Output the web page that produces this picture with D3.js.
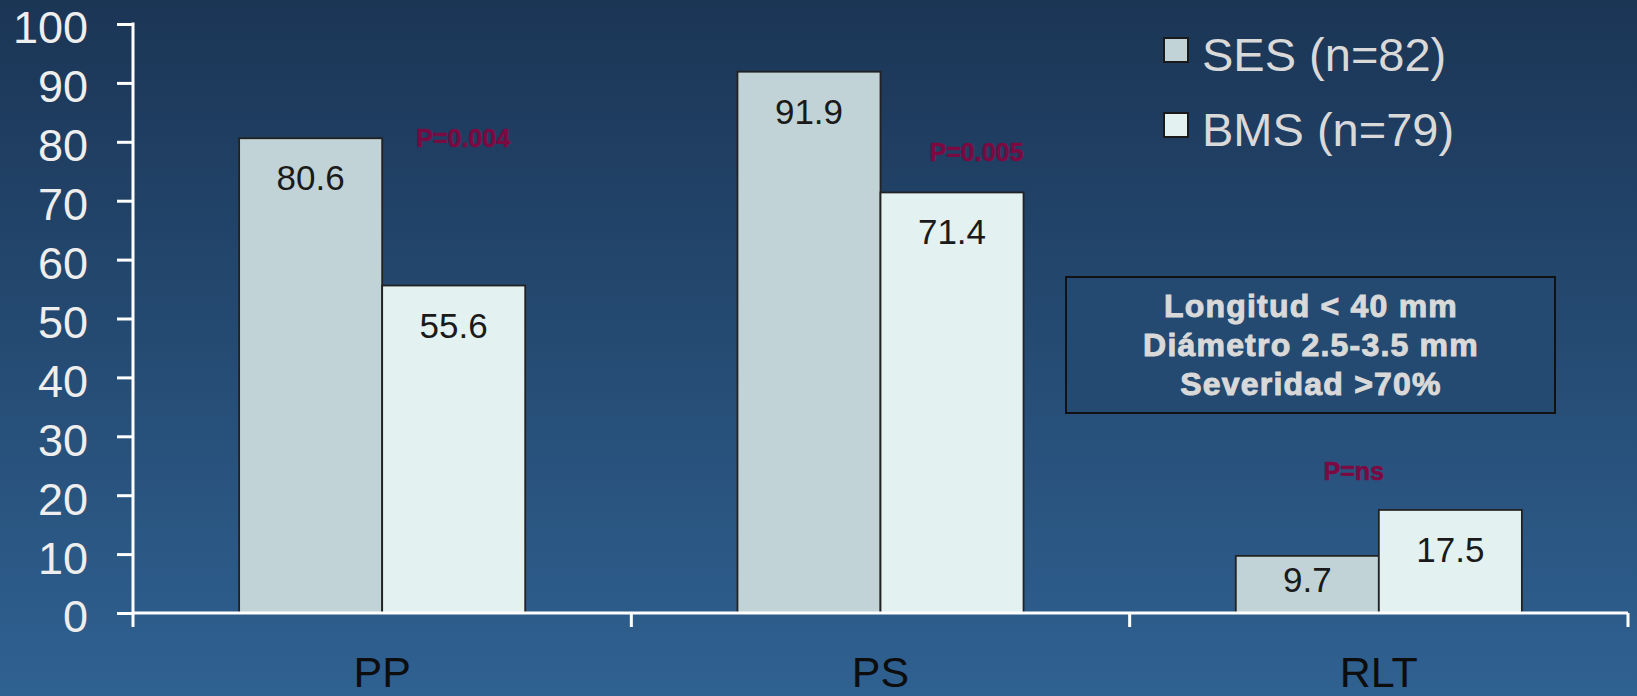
<!DOCTYPE html>
<html lang="en">
<head>
<meta charset="UTF-8">
<title>SES vs BMS</title>
<script src="https://d3js.org/d3.v7.min.js"></script>
<style>
  body { margin: 0; overflow: hidden; }
  svg { display: block; font-family: "Liberation Sans", Arial, sans-serif; }
</style>
</head>
<body>
<svg width="1637" height="696"></svg>
<script>
// data
var categories = ["PP", "PS", "RLT"];
var seriesNames = ["SES (n=82)", "BMS (n=79)"];
var sesValues = [80.6, 91.9, 9.7];
var bmsValues = [55.6, 71.4, 17.5];
var yTicks = [0, 10, 20, 30, 40, 50, 60, 70, 80, 90, 100];
var pLabels = ["P=0.004", "P=0.005", "P=ns"];
var noteLines = ["Longitud < 40 mm", "Diámetro 2.5-3.5 mm", "Severidad >70%"];

// where the p-value notes sit: offset from category centre (px), height in axis units
var pLabelPos = [[81, 79.2], [96, 76.7], [-25, 22.5]];

var colors = ["#c1d3d6", "#e3f1f1"];

var svg = d3.select("svg");

// background gradient
var grad = svg.append("defs").append("linearGradient")
    .attr("id", "bg").attr("x1", 0).attr("y1", 0).attr("x2", 0).attr("y2", 1);
grad.append("stop").attr("offset", "0%").attr("stop-color", "#1b3555");
grad.append("stop").attr("offset", "100%").attr("stop-color", "#2f6191");
svg.append("rect").attr("width", 1637).attr("height", 696).attr("fill", "url(#bg)");

var x = d3.scaleBand().domain(categories).range([133, 1628]);
var xs = d3.scaleBand().domain([0, 1]).range([0, x.bandwidth()]).paddingOuter(0.742);
var y = d3.scaleLinear().domain([0, 100]).range([613, 24]);

var rows = categories.map(function (c, i) {
    return { cat: c, values: [sesValues[i], bmsValues[i]] };
});

// bars
var groups = svg.selectAll(".grp")
    .data(rows)
    .enter().append("g")
    .attr("class", "grp")
    .attr("transform", function (d) { return "translate(" + x(d.cat) + ",0)"; });

groups.selectAll("rect")
    .data(function (d) { return d.values; })
    .enter().append("rect")
    .attr("x", function (d, i) { return xs(i); })
    .attr("y", function (d) { return y(d); })
    .attr("width", xs.bandwidth())
    .attr("height", function (d) { return y(0) - y(d); })
    .attr("fill", function (d, i) { return colors[i]; })
    .attr("stroke", "#222")
    .attr("stroke-width", 1.8);

groups.selectAll(".val")
    .data(function (d) { return d.values; })
    .enter().append("text")
    .attr("class", "val")
    .attr("x", function (d, i) { return xs(i) + xs.bandwidth() / 2; })
    .attr("y", function (d) { return Math.min(y(d) + 52, y(0) - 21); })
    .attr("text-anchor", "middle")
    .attr("font-size", 35)
    .attr("fill", "#1a1a1a")
    .text(function (d) { return d; });

// y axis
var yAxis = svg.append("g")
    .attr("transform", "translate(133,0)")
    .call(d3.axisLeft(y).tickValues(yTicks).tickSize(16).tickSizeOuter(0).tickPadding(29));
yAxis.select(".domain").remove();
yAxis.selectAll("line").attr("stroke", "#fff").attr("stroke-width", 3);
yAxis.selectAll("text")
    .attr("fill", "#eeeeee")
    .attr("font-size", 45)
    .attr("font-family", "Liberation Sans, Arial, sans-serif")
    .attr("dy", "0.42em");
svg.append("line")
    .attr("x1", 133).attr("x2", 133)
    .attr("y1", y(100) - 1.5).attr("y2", y(0) + 14)
    .attr("stroke", "#fff").attr("stroke-width", 3);

// x axis line and ticks between categories
svg.append("line")
    .attr("x1", 133).attr("x2", 1628)
    .attr("y1", y(0)).attr("y2", y(0))
    .attr("stroke", "#fff").attr("stroke-width", 3);
var bounds = categories.map(function (c) { return x(c); }).concat([x.range()[1]]);
svg.selectAll(".xtick")
    .data(bounds.slice(1))
    .enter().append("line")
    .attr("x1", function (d) { return d; }).attr("x2", function (d) { return d; })
    .attr("y1", y(0)).attr("y2", y(0) + 14)
    .attr("stroke", "#fff").attr("stroke-width", 3);

svg.selectAll(".cat")
    .data(categories)
    .enter().append("text")
    .attr("x", function (d) { return x(d) + x.bandwidth() / 2; })
    .attr("y", 687)
    .attr("text-anchor", "middle")
    .attr("font-size", 43)
    .attr("fill", "#0d0d0d")
    .text(function (d) { return d; });

// p-values
svg.selectAll(".pval")
    .data(pLabels)
    .enter().append("text")
    .attr("x", function (d, i) { return x(categories[i]) + x.bandwidth() / 2 + pLabelPos[i][0]; })
    .attr("y", function (d, i) { return y(pLabelPos[i][1]); })
    .attr("text-anchor", "middle")
    .attr("font-size", 25)
    .attr("font-weight", "bold")
    .attr("fill", "#7b0a42")
    .attr("stroke", "#7b0a42")
    .attr("stroke-width", 0.6)
    .text(function (d) { return d; });

// legend
var legend = svg.selectAll(".leg")
    .data(seriesNames)
    .enter().append("g")
    .attr("transform", function (d, i) { return "translate(1164," + (38 + i * 75) + ")"; });
legend.append("rect")
    .attr("width", 24).attr("height", 24)
    .attr("fill", function (d, i) { return colors[i]; })
    .attr("stroke", "#1a1a1a").attr("stroke-width", 2);
legend.append("text")
    .attr("x", 38).attr("y", 33)
    .attr("font-size", 47)
    .attr("fill", "#d9d9d9")
    .text(function (d) { return d; });

// note box
svg.append("rect")
    .attr("x", 1066).attr("y", 277).attr("width", 489).attr("height", 136)
    .attr("fill", "#244a71").attr("stroke", "#111").attr("stroke-width", 2);
svg.selectAll(".note")
    .data(noteLines)
    .enter().append("text")
    .attr("x", 1311)
    .attr("y", function (d, i) { return 317 + i * 39; })
    .attr("text-anchor", "middle")
    .attr("font-size", 32)
    .attr("font-weight", "bold")
    .attr("letter-spacing", 1.2)
    .attr("fill", "#d9d9d9")
    .attr("stroke", "#d9d9d9")
    .attr("stroke-width", 1)
    .text(function (d) { return d; });
</script>
</body>
</html>
